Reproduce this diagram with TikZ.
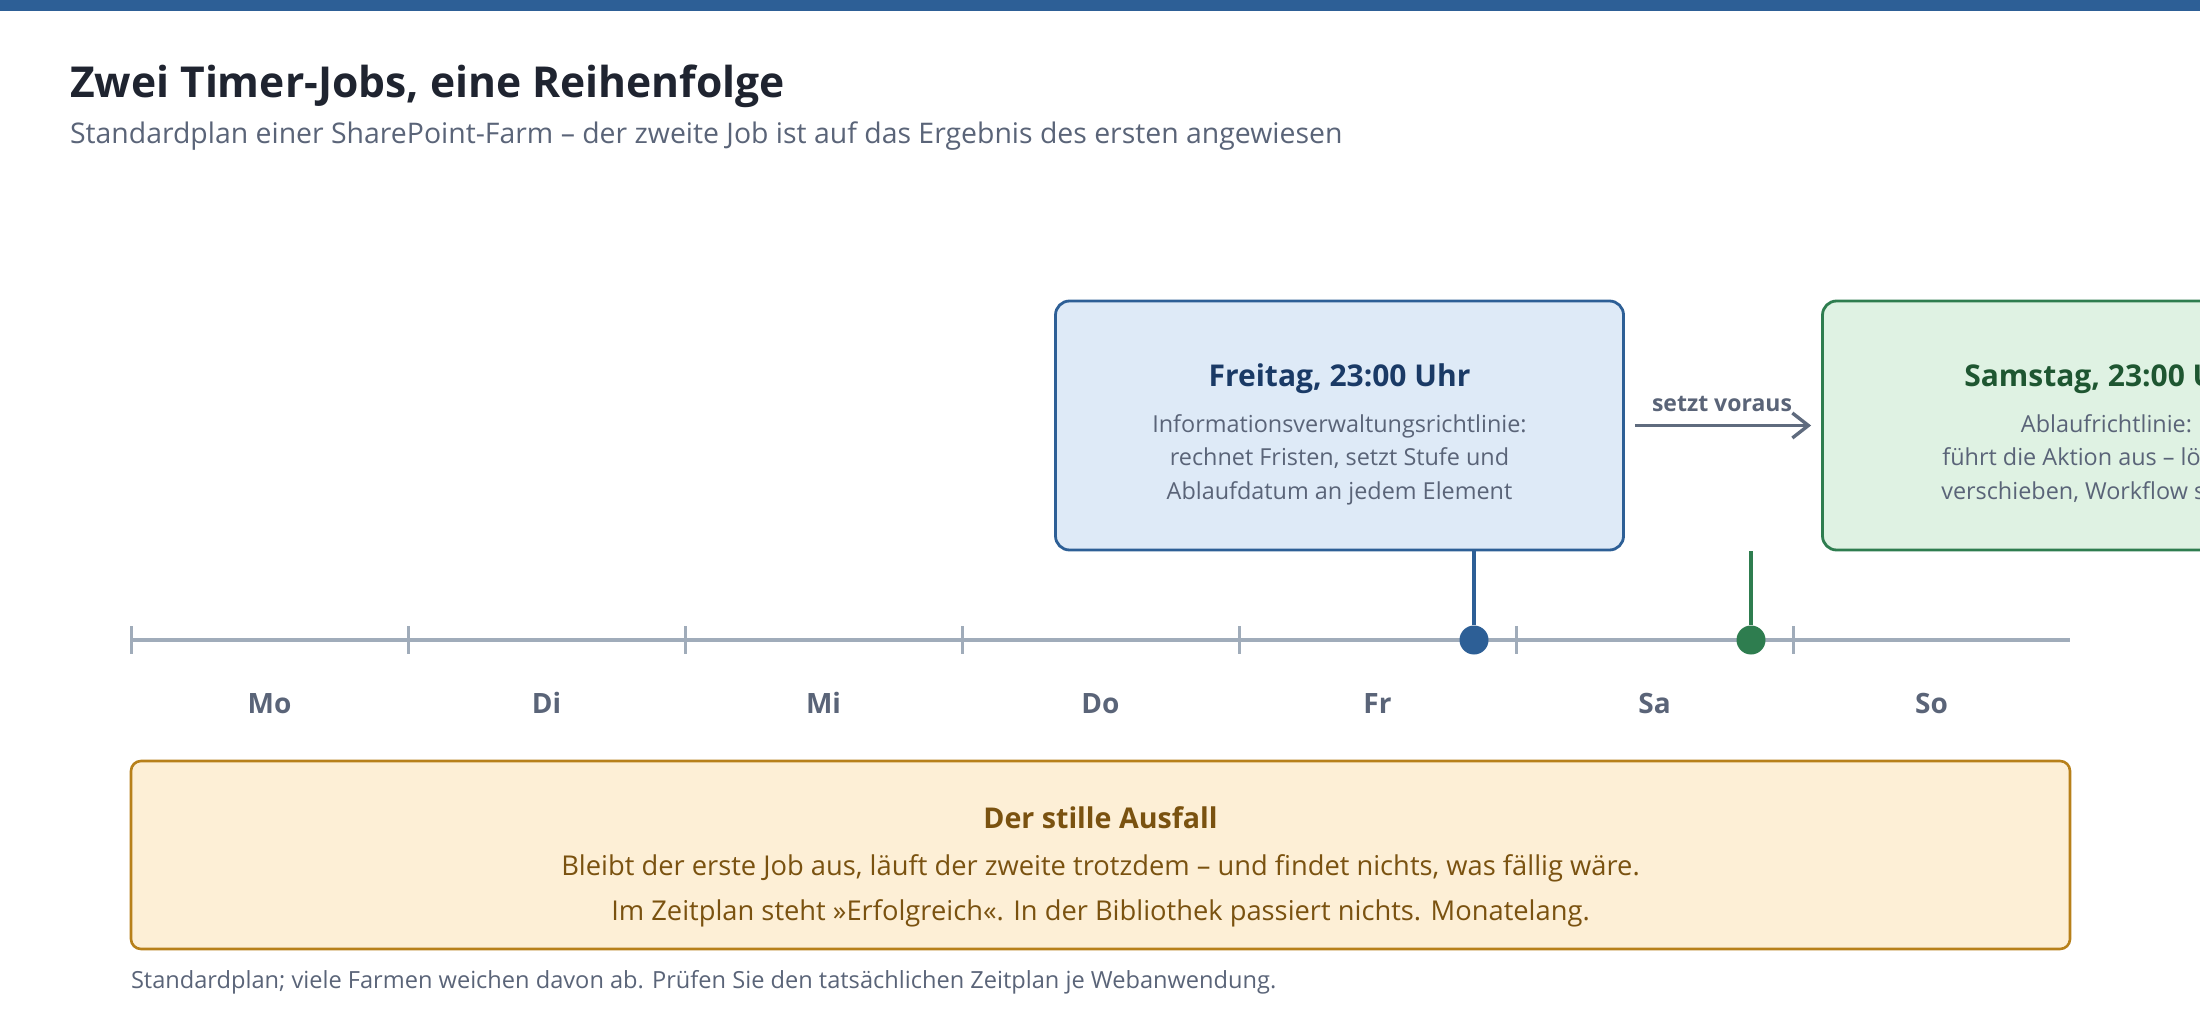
\documentclass[tikz,border=0pt]{standalone}
\usepackage{fontspec}
\setmainfont{Open Sans}
\usetikzlibrary{arrows.meta}
\definecolor{topblue}{HTML}{2D5F96}
\definecolor{titlecol}{HTML}{1F2430}
\definecolor{graytext}{HTML}{5A6478}
\definecolor{axisgray}{HTML}{A0ACBA}
\definecolor{bluefill}{HTML}{DEEAF7}
\definecolor{bluetitle}{HTML}{1A3A66}
\definecolor{greenline}{HTML}{2E7D4F}
\definecolor{greenfill}{HTML}{DFF2E3}
\definecolor{greentitle}{HTML}{1E5631}
\definecolor{arrowgray}{HTML}{5F6B7E}
\definecolor{warnfill}{HTML}{FDEFD6}
\definecolor{warnline}{HTML}{B7801A}
\definecolor{warntext}{HTML}{7A5210}
\begin{document}
\begin{tikzpicture}[x=0.5pt,y=-0.5pt,
  txt/.style={inner sep=0pt,outer sep=0pt,anchor=base},
  jobbox/.style={rounded corners=7pt,line width=1.4pt,minimum width=284pt,minimum height=124.5pt,inner sep=0pt},
  boxtitle/.style={txt,font=\fontsize{15}{18}\selectfont\bfseries},
  boxbody/.style={txt,font=\fontsize{11.7}{14}\selectfont,text=graytext},
  daylabel/.style={txt,font=\fontsize{14}{16}\selectfont\bfseries,text=graytext},
  tickmark/.style={axisgray,line width=1.5pt},
  stem/.style={line width=1.7pt},
  warntxt/.style={txt,text=warntext,font=\fontsize{13.65}{16}\selectfont}
]
\useasboundingbox (0,0) rectangle (2200,1010);
\clip (0,0) rectangle (2200,1010);
\fill[topblue] (0,0) rectangle (2200,11);

% heading
\node[txt,anchor=base west,text=titlecol,font=\fontsize{21.3}{25}\selectfont\bfseries] (title) at (70,98) {Zwei Timer-Jobs, eine Reihenfolge};
\node[txt,anchor=base west,text=graytext,font=\fontsize{14.2}{17}\selectfont] (subtitle) at (70,144) {Standardplan einer SharePoint-Farm – der zweite Job ist auf das Ergebnis des ersten angewiesen};

% timeline
\coordinate (axisL) at (131,640);
\coordinate (axisR) at (2070,640);
\draw[axisgray,line width=2.3pt] (axisL) -- (axisR);
\foreach \i in {0,...,6}{
  \draw[tickmark] ({131+277*\i},626) -- ({131+277*\i},654);
}
\foreach \d [count=\i from 0] in {Mo,Di,Mi,Do,Fr,Sa,So}{
  \node[daylabel] (day\i) at ({131+277*\i+138.5},713) {\d};
}

% job boxes
\node[jobbox,draw=topblue,fill=bluefill] (fri) at (1339.5,425.5) {};
\node[jobbox,draw=greenline,fill=greenfill] (sat) at (2106.5,425.5) {};

\node[boxtitle,text=bluetitle] (friT) at (1339.5,387) {Freitag, 23:00 Uhr};
\node[boxbody] (fri1) at (1339.5,432) {Informationsverwaltungsrichtlinie:};
\node[boxbody] (fri2) at (1339.5,466) {rechnet Fristen, setzt Stufe und};
\node[boxbody] (fri3) at (1339.5,499) {Ablaufdatum an jedem Element};

\node[boxtitle,text=greentitle] (satT) at (2106.5,387) {Samstag, 23:00 Uhr};
\node[boxbody] (sat1) at (2106.5,432) {Ablaufrichtlinie:};
\node[boxbody] (sat2) at (2106.5,466) {führt die Aktion aus – löschen,};
\node[boxbody] (sat3) at (2106.5,499) {verschieben, Workflow starten};

% dependency arrow
\draw[arrowgray,line width=1.7pt,-{Straight Barb[length=8pt,width=12.5pt,line width=1.7pt]},shorten <=5pt,shorten >=5pt] (fri.east) -- (sat.west);
\node[txt,text=graytext,font=\fontsize{11.5}{13}\selectfont\bfseries] (dep) at (1722,412) {setzt voraus};

% markers
\node[circle,fill=topblue,minimum size=14.5pt,inner sep=0pt] (fdot) at (1474,640) {};
\node[circle,fill=greenline,minimum size=14.5pt,inner sep=0pt] (sdot) at (1751,640) {};
\draw[stem,topblue] (fri.south -| fdot) -- (fdot.north);
\draw[stem,greenline] (sat.south -| sdot) -- (sdot.north);

% warning box
\node[draw=warnline,fill=warnfill,line width=1.3pt,rounded corners=5pt,minimum width=969.5pt,minimum height=94pt,inner sep=0pt] (warn) at (1100.5,855) {};
\node[warntxt,font=\fontsize{14.3}{17}\selectfont\bfseries] (warnT) at (1100.5,828) {Der stille Ausfall};
\node[warntxt] (warn1) at (1100.5,875) {Bleibt der erste Job aus, läuft der zweite trotzdem – und findet nichts, was fällig wäre.};
\node[warntxt] (warn2) at (1100.5,920) {Im Zeitplan steht »Erfolgreich«. In der Bibliothek passiert nichts. Monatelang.};

% footnote
\node[txt,anchor=base west,text=graytext,font=\fontsize{11.8}{14}\selectfont] (foot) at (131,988) {Standardplan; viele Farmen weichen davon ab. Prüfen Sie den tatsächlichen Zeitplan je Webanwendung.};
\end{tikzpicture}
\end{document}
